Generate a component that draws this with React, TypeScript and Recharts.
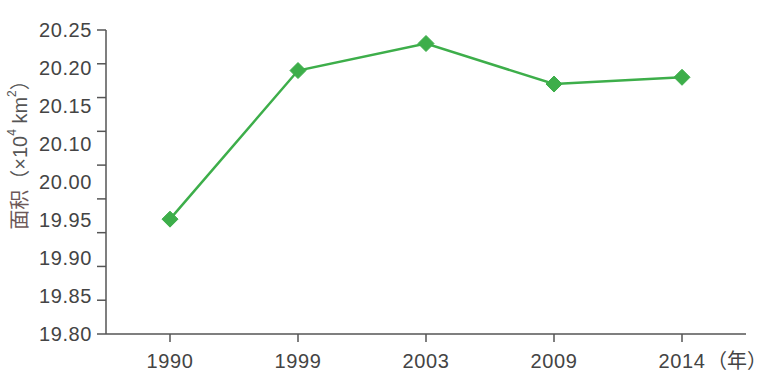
import { CartesianGrid, Line, LineChart, XAxis, YAxis } from 'recharts';

const years = ['1990', '1999', '2003', '2009', '2014'];
const area = [19.97, 20.19, 20.23, 20.17, 20.18];
// tick marks follow the real scale; the printed labels skip 20.05 and are spread evenly
const yTicks = [19.8, 19.85, 19.9, 19.95, 20.0, 20.05, 20.1, 20.15, 20.2, 20.25];
const yLabels = ['19.80', '19.85', '19.90', '19.95', '20.00', '20.10', '20.15', '20.20', '20.25'];

const data = years.map((year, i) => ({ year, area: area[i] }));

const W = 773;
const H = 379;
const margin = { top: 30, right: 27, left: 0, bottom: 12 };
const Y_WIDTH = 106;
const X_HEIGHT = 33;
const PLOT_H = H - margin.top - margin.bottom - X_HEIGHT;

const FONT = "'Liberation Sans', Arial, 'Noto Sans CJK SC', sans-serif";
const GREEN = '#3dae4a';
const AXIS = '#555';

const YTick = (props: any) => {
  const { x, y, payload } = props;
  const i = yTicks.indexOf(payload.value);
  if (i < 0 || i >= yLabels.length) return null;
  const step = PLOT_H / (yTicks.length - 1);
  const ly = y - (i * step) / (yLabels.length - 1);
  return (
    <text x={x} y={ly} dy="0.36em" textAnchor="end" fontSize={20} letterSpacing={0.6} fill="#444" fontFamily={FONT}>
      {yLabels[i]}
    </text>
  );
};

const XTick = (props: any) => {
  const { x, y, payload, index } = props;
  return (
    <g>
      <text x={x} y={y} dy="1em" textAnchor="middle" fontSize={20} letterSpacing={0.6} fill="#444" fontFamily={FONT}>
        {payload.value}
      </text>
      {index === years.length - 1 && (
        <text x={x + 25} y={y} dy="1em" textAnchor="start" fontSize={20} fill="#444" fontFamily={FONT}>
          （年）
        </text>
      )}
    </g>
  );
};

const Diamond = (props: any) => {
  const { cx, cy } = props;
  if (cx == null || cy == null) return null;
  const r = 8;
  return (
    <polygon
      points={`${cx},${cy - r} ${cx + r},${cy} ${cx},${cy + r} ${cx - r},${cy}`}
      fill={GREEN}
      stroke={GREEN}
      strokeWidth={1}
    />
  );
};

const YTitle = (props: any) => {
  const { viewBox } = props;
  const cx = 20;
  const cy = viewBox.y + viewBox.height / 2 - 32;
  return (
    <text
      x={cx}
      y={cy}
      transform={`rotate(-90 ${cx} ${cy})`}
      textAnchor="middle"
      dominantBaseline="central"
      fontSize={20}
      fill="#555"
      fontFamily={FONT}
    >
      <tspan fill="#6d5858">面积</tspan>
      <tspan>（×10</tspan>
      <tspan fontSize={12} dy={-8}>4</tspan>
      <tspan dy={8}> km</tspan>
      <tspan fontSize={12} dy={-8}>2</tspan>
      <tspan dy={8}>）</tspan>
    </text>
  );
};

export default function App() {
  return (
    <div style={{ position: 'absolute', left: 0, top: 0, width: W, height: H, background: '#fff' }}>
      <LineChart width={W} height={H} data={data} margin={margin}>
        <CartesianGrid stroke="none" />
        <XAxis
          dataKey="year"
          height={X_HEIGHT}
          padding={{ left: 64, right: 64 }}
          tick={<XTick />}
          tickSize={8}
          tickMargin={6}
          axisLine={{ stroke: AXIS, strokeWidth: 1.5 }}
          tickLine={{ stroke: AXIS, strokeWidth: 1.5 }}
          interval={0}
        />
        <YAxis
          type="number"
          width={Y_WIDTH}
          domain={[19.8, 20.25]}
          ticks={yTicks}
          interval={0}
          tick={<YTick />}
          tickSize={9}
          tickMargin={5}
          axisLine={{ stroke: AXIS, strokeWidth: 1.5 }}
          tickLine={{ stroke: AXIS, strokeWidth: 1.5 }}
          label={<YTitle />}
        />
        <Line
          dataKey="area"
          stroke={GREEN}
          strokeWidth={2.5}
          dot={<Diamond />}
          activeDot={false}
          isAnimationActive={false}
        />
      </LineChart>
    </div>
  );
}
